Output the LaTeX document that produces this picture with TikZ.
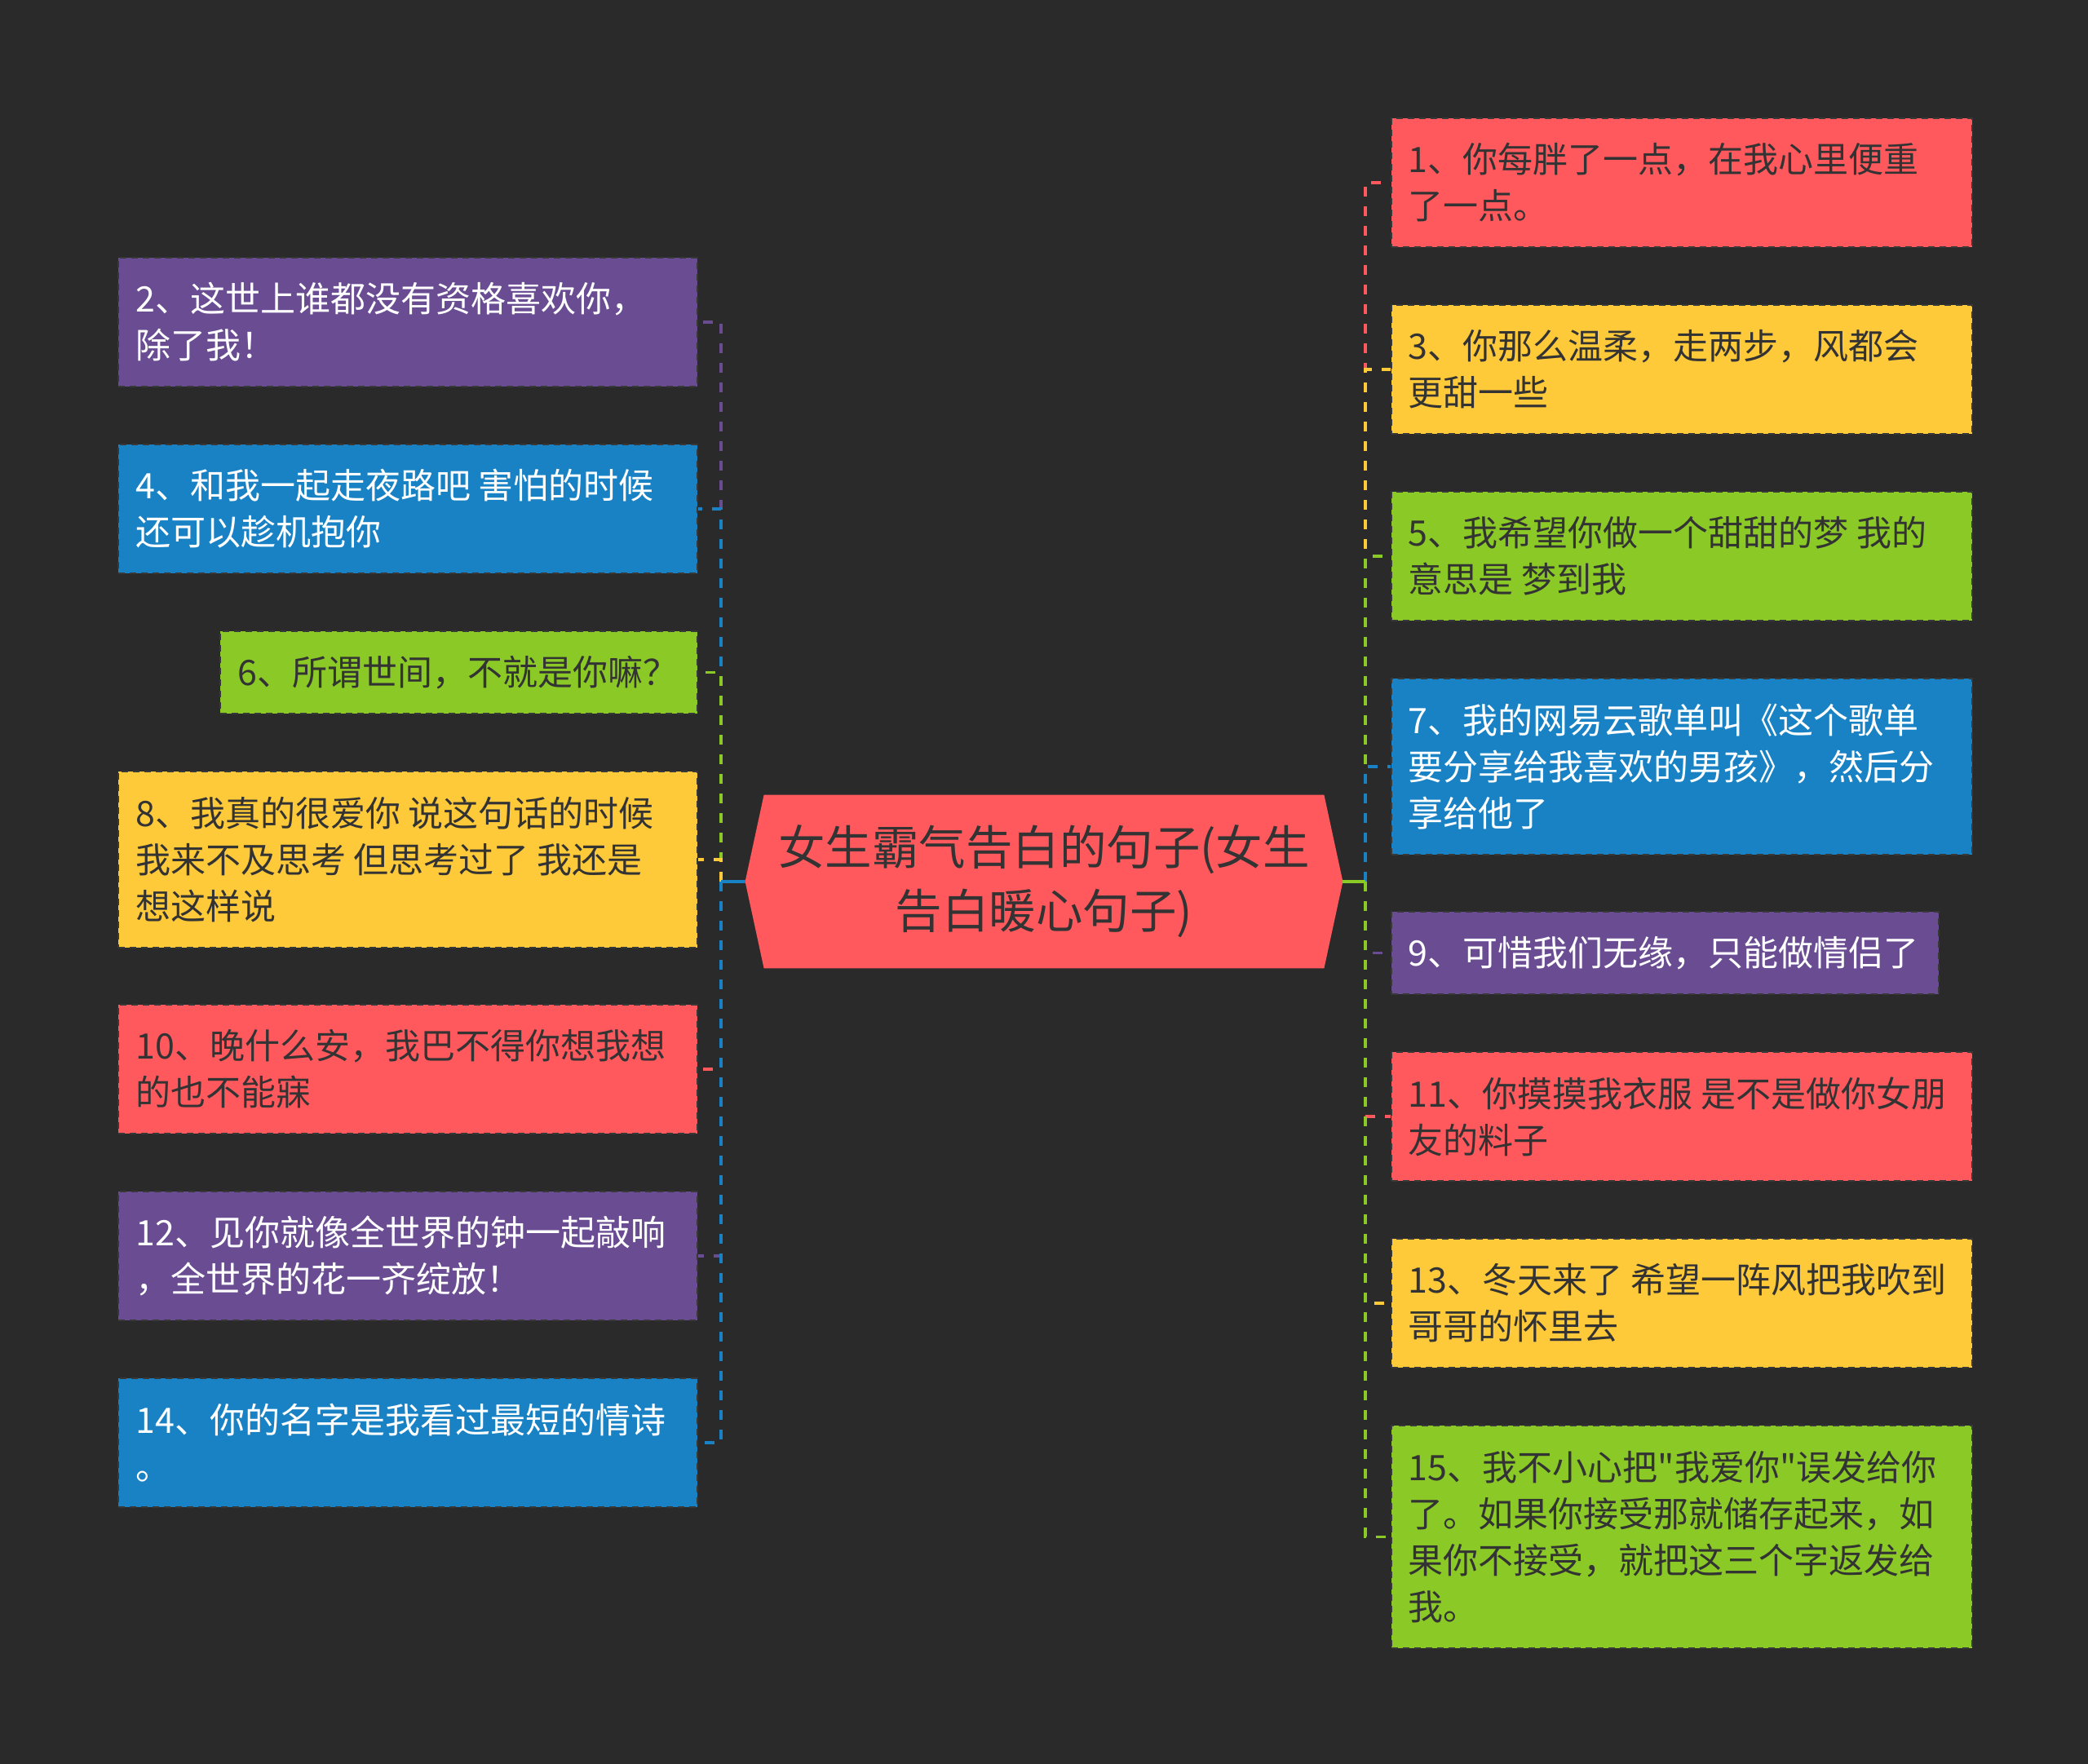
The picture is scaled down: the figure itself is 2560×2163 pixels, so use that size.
\documentclass[tikz,border=0pt]{standalone}
\usepackage{fontspec}
\newfontfamily\cjk{Noto Sans CJK SC}
\definecolor{bg}{HTML}{2A2A2A}
\definecolor{cred}{HTML}{FF595E}
\definecolor{cyel}{HTML}{FFCA3A}
\definecolor{cgrn}{HTML}{8AC926}
\definecolor{cblu}{HTML}{1982C4}
\definecolor{cpur}{HTML}{6A4C93}
\definecolor{dtext}{HTML}{333333}
\definecolor{bord}{HTML}{383838}
\tikzset{
  bx/.style={rectangle, inner sep=0pt, anchor=north west, draw=bord, line width=1pt, dash pattern=on 4pt off 3pt},
  tx/.style={anchor=west, inner sep=0pt, align=left, font=\cjk\fontsize{21.5pt}{28.5pt}\selectfont},
  conn/.style={line width=1.75pt, dash pattern=on 6pt off 6pt},
  stub/.style={line width=1.75pt},
  lw/.style={minimum width=355pt},
  rw/.style={minimum width=356pt},
  h2/.style={minimum height=79pt},
  h1/.style={minimum height=50.5pt},
  h3/.style={minimum height=108pt},
  h4/.style={minimum height=136.5pt},
}
\begin{document}
\begin{tikzpicture}[x=0.5pt,y=-0.5pt]
\fill[bg] (0,0) rectangle (2560,2163);
\useasboundingbox (0,0) rectangle (2560,2163);

% central node
\node[minimum width=366pt, minimum height=106pt, inner sep=0pt] (c) at (1280,1081) {};
\fill[cred] ([xshift=11.5pt]c.north west) -- ([xshift=-11.5pt]c.north east) -- (c.east)
  -- ([xshift=-11.5pt]c.south east) -- ([xshift=11.5pt]c.south west) -- (c.west) -- cycle;
\node[align=center, inner sep=0pt, text=dtext, font=\cjk\fontsize{28.75pt}{39pt}\selectfont] (ct) at (c.center) {女生霸气告白的句子(女生\\告白暖心句子)};

% left boxes
\node[bx, lw, h2, fill=cpur] (b2) at (144,315) {};
\node[tx, text=white] (t2) at ([xshift=11pt]b2.west) {2、这世上谁都没有资格喜欢你，\\除了我！};
\node[bx, lw, h2, fill=cblu] (b4) at (144,544) {};
\node[tx, text=white] (t4) at ([xshift=11pt]b4.west) {4、和我一起走夜路吧 害怕的时候\\还可以趁机抱你};
\node[bx, minimum width=292.5pt, h1, fill=cgrn] (b6) at (269,773) {};
\node[tx, text=dtext] (t6) at ([xshift=11pt]b6.west) {6、所谓世间，不就是你嘛？};
\node[bx, lw, h3, fill=cyel] (b8) at (144,945) {};
\node[tx, text=dtext] (t8) at ([xshift=11pt]b8.west) {8、我真的很爱你 说这句话的时候\\我来不及思考 但思考过了 我还是\\想这样说};
\node[bx, lw, h2, fill=cred] (b10) at (144,1231) {};
\node[tx, text=dtext] (t10) at ([xshift=11pt]b10.west) {10、晚什么安，我巴不得你想我想\\的也不能寐};
\node[bx, lw, h2, fill=cpur] (b12) at (144,1460) {};
\node[tx, text=white] (t12) at ([xshift=11pt]b12.west) {12、见你就像全世界的钟一起敲响\\，全世界的花一齐绽放！};
\node[bx, lw, h2, fill=cblu] (b14) at (144,1689) {};
\node[tx, text=white] (t14) at ([xshift=11pt]b14.west) {14、你的名字是我看过最短的情诗\\。};

% right boxes
\node[bx, rw, h2, fill=cred] (b1) at (1704.5,144) {};
\node[tx, text=dtext] (t1) at ([xshift=11pt]b1.west) {1、你每胖了一点，在我心里便重\\了一点。};
\node[bx, rw, h2, fill=cyel] (b3) at (1704.5,373) {};
\node[tx, text=dtext] (t3) at ([xshift=11pt]b3.west) {3、你那么温柔，走两步，风都会\\更甜一些};
\node[bx, rw, h2, fill=cgrn] (b5) at (1704.5,602) {};
\node[tx, text=dtext] (t5) at ([xshift=11pt]b5.west) {5、我希望你做一个甜甜的梦 我的\\意思是 梦到我};
\node[bx, rw, h3, fill=cblu] (b7) at (1704.5,831) {};
\node[tx, text=white] (t7) at ([xshift=11pt]b7.west) {7、我的网易云歌单叫《这个歌单\\要分享给我喜欢的男孩》，然后分\\享给他了};
\node[bx, minimum width=335.5pt, h1, fill=cpur] (b9) at (1704.5,1117) {};
\node[tx, text=white] (t9) at ([xshift=11pt]b9.west) {9、可惜我们无缘，只能做情侣了};
\node[bx, rw, h2, fill=cred] (b11) at (1704.5,1289) {};
\node[tx, text=dtext] (t11) at ([xshift=11pt]b11.west) {11、你摸摸我衣服 是不是做你女朋\\友的料子};
\node[bx, rw, h2, fill=cyel] (b13) at (1704.5,1518) {};
\node[tx, text=dtext] (t13) at ([xshift=11pt]b13.west) {13、冬天来了 希望一阵风把我吹到\\哥哥的怀里去};
\node[bx, rw, h4, fill=cgrn] (b15) at (1704.5,1747) {};
\node[tx, text=dtext] (t15) at ([xshift=11pt]b15.west) {15、我不小心把"我爱你"误发给你\\了。如果你接受那就储存起来，如\\果你不接受，就把这三个字返发给\\我。};

% connectors
\coordinate (jl) at (884,1081);
\coordinate (jr) at (1674,1081);
\draw[conn, cpur] (jl) |- (b2.east);
\draw[conn, cblu] (jl) |- (b4.east);
\draw[conn, cgrn] (jl) |- (b6.east);
\draw[conn, cyel] (jl) |- (b8.east);
\draw[conn, cred] (jl) |- (b10.east);
\draw[conn, cpur] (jl) |- (b12.east);
\draw[conn, cblu] (jl) |- (b14.east);
\draw[stub, cblu] (c.west) -- (jl);

\draw[conn, cred] (jr) |- (b1.west);
\draw[conn, cyel] (jr) |- (b3.west);
\draw[conn, cgrn] (jr) |- (b5.west);
\draw[conn, cblu] (jr) |- (b7.west);
\draw[conn, cpur] (jr) |- (b9.west);
\draw[conn, cred] (jr) |- (b11.west);
\draw[conn, cyel] (jr) |- (b13.west);
\draw[conn, cgrn] (jr) |- (b15.west);
\draw[stub, cgrn] (c.east) -- (jr);
\end{tikzpicture}
\end{document}
